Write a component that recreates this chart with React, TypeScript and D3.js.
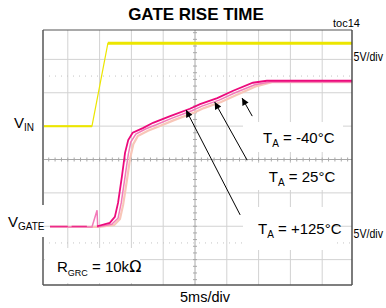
import * as d3 from 'd3';

// scope settings: 5 ms/div horizontally, 5 V/div vertically, 10 x 8 divisions
const timeDomain = [0, 50];
const voltDomain = [-20, 20];
const vinGround = 5; // V_IN trace sits one division above centre
const gateGround = -12.5; // V_GATE ground marker

// V_IN (ms, V)
const vinT = [1.1, 8.8, 11.3, 49.7];
const vinV = [0, 0, 12.4, 12.4];

// V_GATE, three temperatures (ms, V)
const gateBrightT = [2.2, 5.0, 5.6, 8.0, 8.6, 9.6, 11.6, 12.4, 12.9, 13.5, 14.0, 14.5, 15.2, 16.8, 18.4, 21.1, 24.2, 25.8, 28.5, 31.0, 34.1, 36.3, 49.7];
const gateBrightV = [2.5, 2.5, 2.5, 2.5, 2.5, 2.5, 3.0, 3.9, 6.0, 9.9, 13.5, 15.4, 16.5, 17.2, 18.0, 19.0, 20.1, 20.8, 21.7, 22.8, 24.0, 24.3, 24.3];
const gateMidT = [2.2, 8.8, 9.6, 9.7, 11.9, 12.9, 13.4, 14.0, 14.5, 14.9, 15.7, 17.3, 18.9, 21.4, 24.5, 26.1, 28.8, 31.3, 34.4, 36.8, 49.7];
const gateMidV = [2.4, 2.4, 4.9, 2.4, 2.8, 3.7, 6.0, 9.9, 13.2, 15.1, 16.3, 17.1, 17.7, 18.7, 19.8, 20.5, 21.4, 22.5, 23.7, 24.1, 24.1];
const gatePaleT = [2.2, 9.9, 12.3, 13.2, 13.7, 14.3, 14.8, 15.3, 16.0, 17.6, 19.2, 21.7, 24.8, 26.4, 29.1, 31.6, 34.7, 37.1, 49.7];
const gatePaleV = [2.4, 2.4, 2.7, 3.6, 5.7, 9.4, 12.7, 14.8, 16.0, 16.8, 17.4, 18.4, 19.5, 20.2, 21.1, 22.2, 23.5, 24.1, 24.1];

// arrows: [ms, V] on the gate channel
const arrowLabels = ['T_A = +125°C', 'T_A = 25°C', 'T_A = -40°C'];
const arrowTails = [[32.1, 4.2], [33.2, 12.4], [34.0, 19.0]];
const arrowTips = [[23.6, 19.9], [28.1, 21.1], [32.4, 21.7]];
const labelAnchors = [[34.9, 1.3], [36.6, 9.1], [35.7, 15.0]];

const W = 386;
const H = 308;
const font = "'Liberation Sans Narrow', 'Arial Narrow', 'Liberation Sans', Arial, sans-serif";

export default function App() {
  const x = d3.scaleLinear().domain(timeDomain).range([36, 354]);
  const y = d3.scaleLinear().domain(voltDomain).range([293, 26]);
  const yIn = (v: number) => y(v + vinGround);
  const yGate = (v: number) => y(v + gateGround);

  const frame = { left: 43, right: 352, top: 30, bottom: 285 };

  const zip = (t: number[], v: number[]) => t.map((d, i) => [d, v[i]] as [number, number]);
  const lineIn = d3.line<[number, number]>().x(d => x(d[0])).y(d => yIn(d[1]));
  const lineGate = d3.line<[number, number]>().x(d => x(d[0])).y(d => yGate(d[1]));

  const vin = zip(vinT, vinV);
  const bright = zip(gateBrightT, gateBrightV);

  const vTicks = d3.range(5, 50, 5);
  const hTicks = d3.range(-15, 20, 5);
  const minorX = d3.range(0, 50.01, 1).map(t => x(t)).filter(p => p > frame.left && p < frame.right);
  const minorY = d3.range(-20, 20.01, 1).map(v => y(v)).filter(p => p > frame.top && p < frame.bottom);

  const labelBoxes = [
    { x0: 243, x1: 333, y0: 207, y1: 250 },
    { x0: 243, x1: 343, y0: 163, y1: 190 },
    { x0: 243, x1: 343, y0: 122, y1: 152 },
  ];

  return (
    <svg width={W} height={H} style={{ position: 'absolute', left: 0, top: 0, background: '#fff' }} fontFamily={font}>
      <defs>
        <marker id="ah" viewBox="0 0 10 10" refX="10" refY="5" markerWidth="11" markerHeight="7" markerUnits="userSpaceOnUse" orient="auto">
          <path d="M0,0 L10,5 L0,10 z" fill="#000" />
        </marker>
      </defs>

      <text x={196} y={20} textAnchor="middle" fontSize={17} fontWeight="bold" fill="#000">GATE RISE TIME</text>
      <text x={333} y={27} fontSize={11} fill="#000">toc14</text>

      {/* grid */}
      <g stroke="#d2d2d2" strokeWidth={1}>
        {vTicks.filter(t => t !== 25).map(t => (
          <line key={'v' + t} x1={x(t)} x2={x(t)} y1={frame.top} y2={frame.bottom} />
        ))}
        {hTicks.filter(v => v !== 0).map(v => (
          <line key={'h' + v} x1={frame.left} x2={frame.right} y1={y(v)} y2={y(v)} />
        ))}
      </g>
      <g stroke="#c4c4c4" strokeWidth={1} strokeDasharray="1,5">
        <line x1={frame.left} x2={frame.right} y1={y(12.5)} y2={y(12.5)} />
        <line x1={frame.left} x2={frame.right} y1={yGate(0)} y2={yGate(0)} />
      </g>
      <g stroke="#a8a8a8" strokeWidth={1}>
        <line x1={x(25)} x2={x(25)} y1={frame.top} y2={frame.bottom} />
        <line x1={frame.left} x2={frame.right} y1={y(0)} y2={y(0)} />
        {minorX.map((p, i) => (
          <line key={'mx' + i} x1={p} x2={p} y1={y(0) - 2} y2={y(0) + 2} />
        ))}
        {minorY.map((p, i) => (
          <line key={'my' + i} x1={x(25) - 2} x2={x(25) + 2} y1={p} y2={p} />
        ))}
      </g>

      {/* V_IN: thin edge, heavier flat levels */}
      <path d={lineIn(vin) ?? ''} fill="none" stroke="#ece600" strokeWidth={1.2} />
      <path d={lineIn(vin.slice(0, 2)) ?? ''} fill="none" stroke="#ece600" strokeWidth={2} />
      <path d={lineIn(vin.slice(2)) ?? ''} fill="none" stroke="#ece600" strokeWidth={3} />

      {/* V_GATE */}
      <path d={lineGate(zip(gatePaleT, gatePaleV)) ?? ''} fill="none" stroke="#f8c6b8" strokeWidth={2.2} />
      <path d={lineGate(zip(gateMidT, gateMidV)) ?? ''} fill="none" stroke="#f27ab8" strokeWidth={1.5} />
      <path d={lineGate(bright.slice(0, 2)) ?? ''} fill="none" stroke="#ec0a7c" strokeWidth={1} />
      <path d={lineGate(bright.slice(2, 4)) ?? ''} fill="none" stroke="#ec0a7c" strokeWidth={1} />
      <path d={lineGate(bright.slice(5)) ?? ''} fill="none" stroke="#ec0a7c" strokeWidth={1.8} />

      {/* frame */}
      <line x1={frame.left} x2={frame.left} y1={frame.top} y2={frame.bottom} stroke="#808080" strokeWidth={2} />
      <line x1={frame.left} x2={frame.right} y1={frame.top} y2={frame.top} stroke="#555" strokeWidth={1.2} />
      <line x1={frame.right} x2={frame.right} y1={frame.top} y2={frame.bottom} stroke="#444" strokeWidth={1.4} />
      <line x1={frame.left} x2={frame.right} y1={frame.bottom} y2={frame.bottom} stroke="#555" strokeWidth={1.4} />

      {/* annotation label boxes */}
      {labelBoxes.map((b, i) => (
        <rect key={'b' + i} x={b.x0} y={b.y0} width={b.x1 - b.x0} height={b.y1 - b.y0} fill="#fff" />
      ))}
      <rect x={45} y={248} width={95} height={35} fill="#fff" />
      <rect x={4} y={205} width={40} height={32} fill="#fff" />

      {/* arrows */}
      {arrowTails.map((tl, i) => (
        <line key={'a' + i} x1={x(tl[0])} y1={yGate(tl[1])} x2={x(arrowTips[i][0])} y2={yGate(arrowTips[i][1])}
          stroke="#000" strokeWidth={1} markerEnd="url(#ah)" />
      ))}

      {arrowLabels.map((lab, i) => {
        const rest = lab.slice(3);
        return (
          <text key={'l' + i} x={x(labelAnchors[i][0])} y={yGate(labelAnchors[i][1])} fontSize={15} fill="#000">
            T<tspan fontSize={10} dy={4}>A</tspan><tspan dy={-4}>{rest}</tspan>
          </text>
        );
      })}

      <text x={14} y={128} fontSize={15} fill="#000">V<tspan fontSize={10} dy={3}>IN</tspan></text>
      <text x={8} y={227} fontSize={15} fill="#000">V<tspan fontSize={10} dy={3}>GATE</tspan></text>
      <text x={57} y={272} fontSize={15} fill="#000">R<tspan fontSize={9} dy={4}>GRC</tspan><tspan dy={-4}> = 10k</tspan><tspan fontFamily="'DejaVu Sans', sans-serif" fontSize={16}>Ω</tspan></text>

      <text x={353.5} y={61} fontSize={13.5} textLength={29.5} lengthAdjust="spacingAndGlyphs" fill="#000">5V/div</text>
      <text x={353.5} y={238} fontSize={13.5} textLength={29.5} lengthAdjust="spacingAndGlyphs" fill="#000">5V/div</text>
      <text x={205} y={302} textAnchor="middle" fontSize={14.5} fill="#000">5ms/div</text>
    </svg>
  );
}
